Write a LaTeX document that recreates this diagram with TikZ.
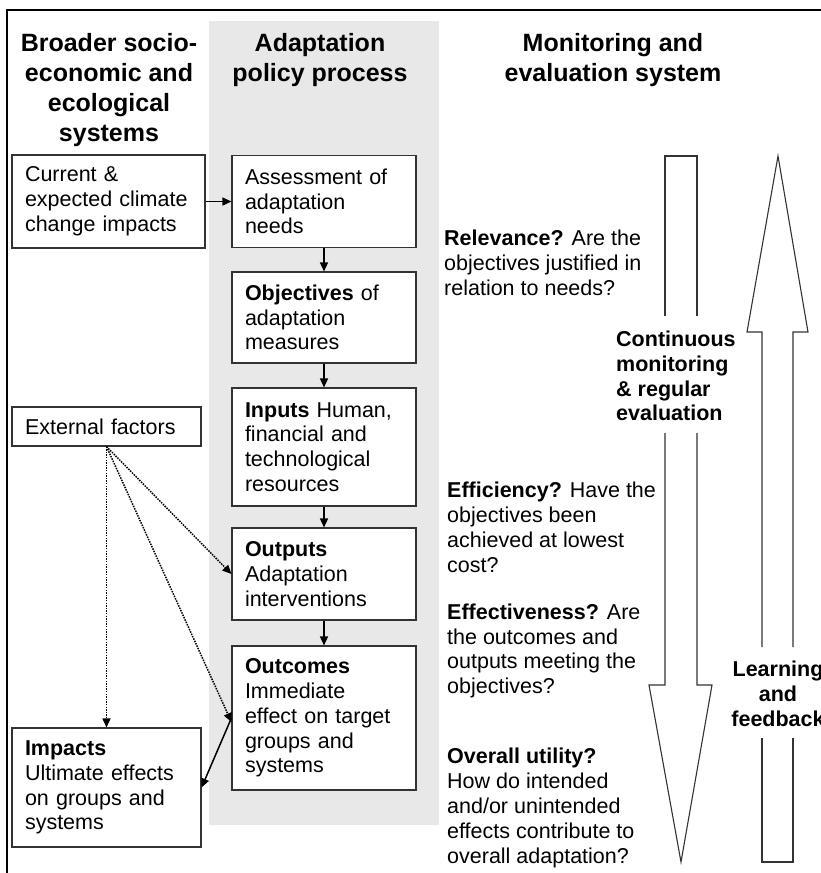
\documentclass[tikz,border=0pt]{standalone}
\usepackage{fontspec}
\setmainfont{Liberation Sans}
\usetikzlibrary{arrows.meta}
\newcommand\bodyfnt{\fontsize{21.5}{24.8}\selectfont}
\newcommand\hdrfnt{\fontsize{25}{30}\selectfont\bfseries}
\definecolor{bandgray}{HTML}{E8E8E8}
\definecolor{linegray}{HTML}{333333}
\tikzset{
  box/.style={draw=linegray, line width=1.1pt, fill=white, inner xsep=13pt, inner ysep=0pt, align=left, font=\bodyfnt},
  hdr/.style={align=center, inner sep=0pt, font=\hdrfnt},
  qtext/.style={align=left, inner sep=0pt, font=\bodyfnt},
  arr/.style={-{Triangle[length=9pt,width=8pt]}, line width=1.5pt},
  dotarr/.style={-{Triangle[length=9pt,width=8pt]}, line width=1.5pt, dash pattern=on 1.5pt off 1.1pt},
  hollow/.style={draw=linegray, line width=1.1pt, line join=miter}
}
\begin{document}
\begin{tikzpicture}[x=1pt,y=-1pt]
\useasboundingbox (0,0) rectangle (820,873);
% gray band
\fill[bandgray] (209,21) rectangle (439,825);
% frame
\draw[line width=2.6pt] (7,900) -- (7,10) -- (840,10);
% headers
\node[hdr] (h1) at (109,90.5) {Broader socio-\\economic and\\ecological\\systems};
\node[hdr] (h2) at (320,60.5) {Adaptation\\policy process};
\node[hdr] (h3) at (613,60.5) {Monitoring and\\evaluation system};
% left boxes
\node[box, text width=167pt, minimum height=93pt] (cur) at (108.5,201.5) {Current \&\\expected climate\\change impacts};
\node[box, text width=163pt, minimum height=39pt] (ext) at (106.5,426.5) {External factors};
\node[box, text width=163pt, minimum height=119pt] (imp) at (106.5,787.5) {\textbf{Impacts}\\Ultimate effects\\on groups and\\systems};
% middle boxes
\node[box, text width=158pt, minimum height=92pt] (ass) at (324,201.5) {Assessment of\\adaptation\\needs};
\node[box, text width=158pt, minimum height=91pt] (obj) at (324,317.5) {\textbf{Objectives} of\\adaptation\\measures};
\node[box, text width=158pt, minimum height=118pt] (inp) at (324,447) {\textbf{Inputs} Human,\\financial and\\technological\\resources};
\node[box, text width=158pt, minimum height=92pt] (outp) at (324,574) {\textbf{Outputs}\\Adaptation\\interventions};
\node[box, text width=158pt, minimum height=144pt] (outc) at (324,718) {\textbf{Outcomes}\\Immediate\\effect on target\\groups and\\systems};
% connectors
\draw[arr] (cur) -- (ass);
\draw[arr] (ass) -- (obj);
\draw[arr] (obj) -- (inp);
\draw[arr] (inp) -- (outp);
\draw[arr] (outp) -- (outc);
\draw[dotarr] (ext.south) -- (outp.west);
\draw[dotarr] (ext.south) -- ([yshift=-4pt]outc.west);
\draw[dotarr] (ext.south) -- (imp.north);
\draw[arr] (outc.west) -- (imp.east);
% questions
\node[qtext, anchor=west] (rel) at (444,263) {\textbf{Relevance?} Are the\\objectives justified in\\relation to needs?};
\node[qtext, anchor=west] (eff) at (447,527.5) {\textbf{Efficiency?} Have the\\objectives been\\achieved at lowest\\cost?};
\node[qtext, anchor=west] (efv) at (447,651) {\textbf{Effectiveness?} Are\\the outcomes and\\outputs meeting the\\objectives?};
\node[qtext, anchor=west] (ovu) at (447,808) {\textbf{Overall utility?}\\How do intended\\and/or unintended\\effects contribute to\\overall adaptation?};
% down arrow
\draw[hollow] (665,316) -- (665,156) -- (697,156) -- (697,316);
\draw[hollow] (665,433) -- (665,685) -- (649,685) -- (681,862) -- (712,685) -- (697,685) -- (697,433);
\node[qtext, font=\bodyfnt\bfseries, anchor=west] (cme) at (616,376) {Continuous\\monitoring\\\& regular\\evaluation};
% up arrow
\draw[hollow] (762,647) -- (762,332) -- (747,332) -- (778,156) -- (808,332) -- (793,332) -- (793,647);
\draw[hollow] (762,738) -- (762,862) -- (793,862) -- (793,738);
\node[hdr, font=\bodyfnt\bfseries] (lf) at (778,694) {Learning\\and\\feedback};
\end{tikzpicture}
\end{document}
